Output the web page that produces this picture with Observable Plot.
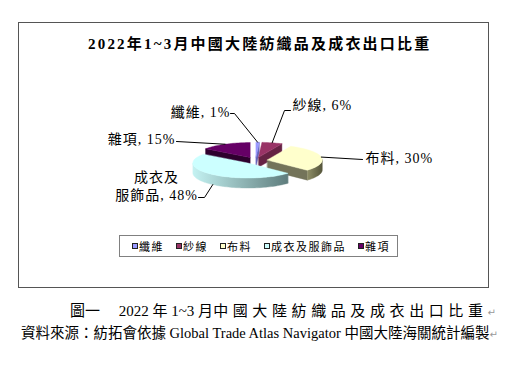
<!DOCTYPE html>
<html><head><meta charset="utf-8">
<script src="https://cdn.jsdelivr.net/npm/d3@7"></script>
<script src="https://cdn.jsdelivr.net/npm/@observablehq/plot@0.6"></script>
<style>
html,body{margin:0;padding:0;background:#fff;}
#page{position:relative;width:516px;height:368px;overflow:hidden;font-family:"Liberation Serif","Noto Sans CJK TC",serif;color:#000;}
#chart{position:absolute;left:0;top:0;}
#chart svg{background:transparent;}
.pie text{letter-spacing:1px;}
#frame{position:absolute;left:18px;top:22px;width:471px;height:266px;box-sizing:border-box;border:1px solid #555;}
#title{position:absolute;left:88px;top:35px;font-weight:bold;font-size:15px;line-height:18px;letter-spacing:2.2px;white-space:nowrap;}
#legend{position:absolute;left:119px;top:235px;width:279px;height:22px;box-sizing:border-box;border:1px solid #808080;display:flex;align-items:center;padding-left:12px;font-size:11px;letter-spacing:1.5px;white-space:nowrap;}
#legend .item{display:flex;align-items:center;margin-right:12px;}
#legend .sw{width:6px;height:6px;box-sizing:border-box;border:1px solid #222;margin-right:1px;}
.cap{position:absolute;white-space:nowrap;font-family:"Liberation Serif","Noto Sans CJK TC",serif;}
#cap1{left:70px;top:302px;font-size:15px;line-height:18px;}
#cap1 .sp{letter-spacing:4.6px;}
#cap2{left:21px;top:324px;font-size:14.5px;line-height:18px;}
.pm{color:#999;font-size:10px;font-family:"DejaVu Sans",sans-serif;}
</style>
</head><body>
<div id="page">
  <div id="chart"></div>
  <div id="frame"></div>
  <div id="title"></div>
  <div id="legend"></div>
  <div id="cap1" class="cap">圖一　 2022 年 1~3 月<span class="sp">中國大陸紡織品及成衣出口比重</span><span class="pm">↵</span></div>
  <div id="cap2" class="cap">資料來源：紡拓會依據 Global Trade Atlas Navigator 中國大陸海關統計編製<span class="pm">↵</span></div>
</div>
<script>
// ---- data ----
const chartTitle = "2022年1~3月中國大陸紡織品及成衣出口比重";
const categories = ["纖維", "紗線", "布料", "成衣及服飾品", "雜項"];
const shares = [1, 6, 30, 48, 15];

// ---- styles ----
const topColors  = ["#9999FF", "#993366", "#FFFFCC", "#CCFFFF", "#660066"];
const faceColors = ["#6666bb", "#662244", "#74745a", "#8fb3b3", "#2e002e"];
const sideGrad   = [["#7a7acc", "#4d4d99"], ["#7a2952", "#4d1a33"], ["#8e8e66", "#55553a"], ["#c4f2f2", "#5f7d7d"], ["#3a003a", "#220022"]];

// ---- layout ----
const G = {cx: 255, cy: 160, rx: 55, ry: 15, depth: 10, explode: 12};
const labelLayout = [
  {x: 230, y: 111, anchor: "end",   lead: [[230, 113], [234, 113]], onSide: false},
  {x: 292, y: 104, anchor: "start", lead: [[290, 110], [284, 110]], onSide: false},
  {x: 365, y: 157, anchor: "start", lead: [[362, 159]], onSide: false},
  {x: 156, y: 185, anchor: "middle", lead: [[198, 197], [204, 197]], onSide: true, wrap: 3},
  {x: 175, y: 138, anchor: "end",   lead: [[176, 141]], onSide: false}
];

document.getElementById("title").textContent = chartTitle;

// legend
const lg = document.getElementById("legend");
categories.forEach((c, i) => {
  const it = document.createElement("div"); it.className = "item";
  const sw = document.createElement("div"); sw.className = "sw"; sw.style.background = topColors[i];
  const tx = document.createElement("span"); tx.textContent = c;
  it.append(sw, tx); lg.append(it);
});

// pie geometry from shares
const total = d3.sum(shares);
let acc = 0;
const slices = shares.map((v, i) => {
  const a0 = acc / total * 2 * Math.PI; acc += v;
  const a1 = acc / total * 2 * Math.PI;
  const mid = (a0 + a1) / 2;
  return {i, a0, a1, mid,
    ox: G.explode * Math.sin(mid),
    oy: -G.explode * Math.cos(mid) * G.ry / G.rx};
});
const P = (s, a, dz = 0) => ({x: G.cx + s.ox + G.rx * Math.sin(a), y: G.cy + s.oy - G.ry * Math.cos(a) + dz});
const C = (s, dz = 0) => ({x: G.cx + s.ox, y: G.cy + s.oy + dz});
function arc(s, from, to, dz) {
  const n = Math.max(2, Math.ceil(Math.abs(to - from) / (Math.PI / 90)));
  return d3.range(n + 1).map(k => P(s, from + (to - from) * k / n, dz));
}
const polys = [];
const order = slices.slice().sort((a, b) => a.oy - b.oy);
for (const s of order) {
  const d = G.depth;
  if (Math.sin(s.a0) < -1e-6) polys.push({fill: faceColors[s.i], pts: [C(s), P(s, s.a0), P(s, s.a0, d), C(s, d)]});
  if (Math.sin(s.a1) > 1e-6) polys.push({fill: faceColors[s.i], pts: [C(s), P(s, s.a1), P(s, s.a1, d), C(s, d)]});
  const lo = Math.max(s.a0, Math.PI / 2), hi = Math.min(s.a1, 3 * Math.PI / 2);
  if (lo < hi) polys.push({fill: `url(#side${s.i})`, pts: [...arc(s, lo, hi, 0), ...arc(s, hi, lo, d)]});
  polys.push({fill: topColors[s.i], pts: [C(s), ...arc(s, s.a0, s.a1, 0)]});
}

// labels and leaders
const labels = slices.map(s => {
  const L = labelLayout[s.i];
  let name = categories[s.i];
  if (L.wrap) name = name.slice(0, L.wrap) + "\n" + name.slice(L.wrap);
  return {x: L.x, y: L.y, anchor: L.anchor, text: `${name}, ${shares[s.i]}%`};
});
const leaders = slices.flatMap(s => {
  const L = labelLayout[s.i];
  const end = P(s, s.mid, L.onSide ? G.depth : 0);
  return [...L.lead.map(([x, y]) => ({id: s.i, x, y})), {id: s.i, x: end.x, y: end.y}];
});

const svg = Plot.plot({
  width: 516, height: 368,
  marginTop: 0, marginRight: 0, marginBottom: 0, marginLeft: 0,
  className: "pie",
  style: {background: "transparent"},
  x: {domain: [0, 516], range: [0, 516], axis: null},
  y: {domain: [0, 368], range: [0, 368], axis: null},
  marks: [
    ...polys.map(p => Plot.line(p.pts, {x: "x", y: "y", fill: p.fill, stroke: p.fill, strokeWidth: 0.4, curve: "linear-closed"})),
    Plot.line(leaders, {x: "x", y: "y", z: "id", stroke: "#000", strokeWidth: 1}),
    ...["start", "end", "middle"].map(a => Plot.text(labels.filter(d => d.anchor === a), {
      x: "x", y: "y", text: "text", textAnchor: a, lineAnchor: "middle", lineHeight: 1.3,
      fontSize: 14, fontFamily: "Liberation Serif, Noto Sans CJK TC, serif", fill: "#000"
    }))
  ]
});
const ns = "http://www.w3.org/2000/svg";
const defs = document.createElementNS(ns, "defs");
defs.innerHTML = sideGrad.map((g, i) =>
  `<linearGradient id="side${i}" x1="0" y1="0" x2="1" y2="0"><stop offset="0" stop-color="${g[0]}"/><stop offset="1" stop-color="${g[1]}"/></linearGradient>`).join("");
svg.insertBefore(defs, svg.firstChild);
document.getElementById("chart").append(svg);
</script>
</body></html>
